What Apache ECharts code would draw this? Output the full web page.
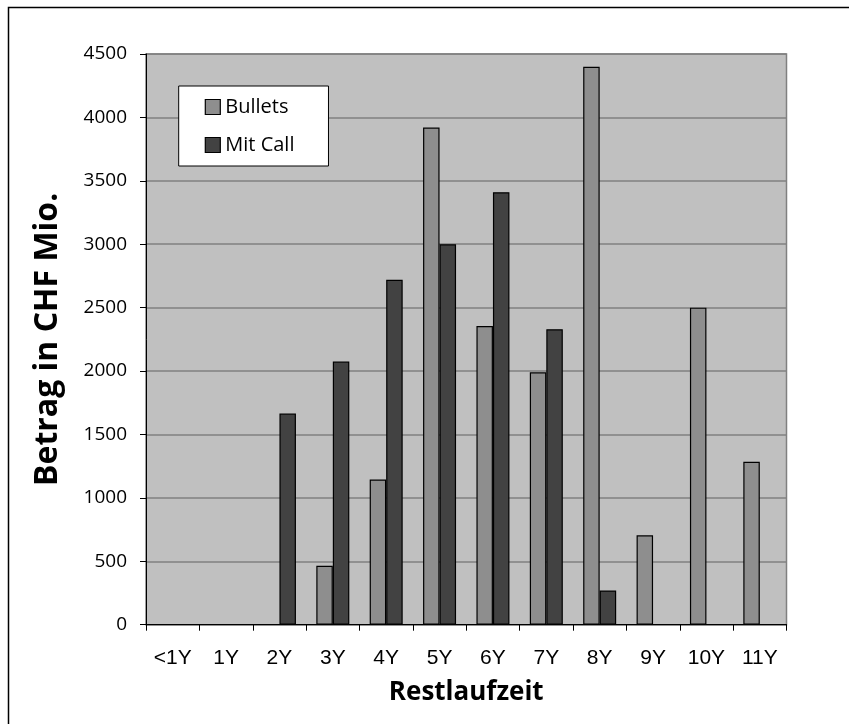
<!DOCTYPE html>
<html>
<head>
<meta charset="utf-8">
<script src="https://cdn.jsdelivr.net/npm/echarts@6/dist/echarts.min.js"></script>
<style>
  html, body { margin: 0; padding: 0; background: #ffffff; }
  #chart { width: 849px; height: 724px; }
</style>
</head>
<body>
<div id="chart"></div>
<script>
// Restlaufzeiten (remaining maturities)
const categories = ['<1Y', '1Y', '2Y', '3Y', '4Y', '5Y', '6Y', '7Y', '8Y', '9Y', '10Y', '11Y'];
// Amounts in CHF millions; null = no issue in that bucket
const bullets = [null, null, null, 465, 1145, 3920, 2355, 1990, 4400, 705, 2500, 1285];
const mitCall = [null, null, 1665, 2075, 2720, 3000, 3410, 2330, 270, null, null, null];
const yTicks = { min: 0, max: 4500, interval: 500 };

const chart = echarts.init(document.getElementById('chart'), null, { renderer: 'canvas' });

const labelFont = '"Open Sans", "DejaVu Sans", sans-serif';

chart.setOption({
  backgroundColor: '#ffffff',
  animation: false,
  graphic: [{
    type: 'rect',
    shape: { x: 8.5, y: 7.5, width: 900, height: 800 },
    style: { fill: 'none', stroke: '#000000', lineWidth: 1.5 },
    silent: true,
    z: -10
  }],
  grid: {
    left: 146, right: 62.5, top: 54, bottom: 99.3,
    show: true,
    backgroundColor: '#c0c0c0',
    borderColor: '#808080',
    borderWidth: 1.5
  },
  legend: {
    left: 178.7, top: 86,
    orient: 'vertical',
    icon: 'rect',
    itemWidth: 15, itemHeight: 15,
    itemGap: 18,
    padding: [11, 34, 11, 26],
    backgroundColor: '#ffffff',
    borderColor: '#000000',
    borderWidth: 1,
    textStyle: { fontFamily: labelFont, fontSize: 20, color: '#000000' },
    itemStyle: { borderColor: '#000000', borderWidth: 1.2 },
    data: ['Bullets', 'Mit Call']
  },
  xAxis: {
    type: 'category',
    data: categories,
    name: 'Restlaufzeit',
    nameLocation: 'middle',
    nameGap: 55,
    nameTextStyle: { fontFamily: labelFont, fontWeight: 'bold', fontSize: 26, color: '#000000' },
    axisLine: { lineStyle: { color: '#000000', width: 1 } },
    axisTick: { show: true, length: 6, lineStyle: { color: '#000000' } },
    axisLabel: { fontFamily: '"Liberation Sans", Arial, sans-serif', fontSize: 21, color: '#000000', margin: 23 },
    splitLine: { show: false }
  },
  yAxis: {
    type: 'value',
    min: yTicks.min, max: yTicks.max, interval: yTicks.interval,
    name: 'Betrag in CHF Mio.',
    nameLocation: 'middle',
    nameGap: 82,
    nameTextStyle: { fontFamily: labelFont, fontWeight: 'bold', fontSize: 32, color: '#000000' },
    axisLine: { show: true, lineStyle: { color: '#000000', width: 1 } },
    axisTick: { show: true, length: 6, lineStyle: { color: '#000000' } },
    axisLabel: {
      fontFamily: labelFont, fontSize: 19, color: '#000000', margin: 19,
      formatter: (v) => String(v)
    },
    splitLine: { show: true, lineStyle: { color: '#808080', width: 1.5 } }
  },
  series: [
    {
      name: 'Bullets',
      type: 'bar',
      data: bullets,
      barWidth: 16.5,
      barGap: 0,
      itemStyle: { color: '#8e8e8e', borderColor: '#000000', borderWidth: 1.2 }
    },
    {
      name: 'Mit Call',
      type: 'bar',
      data: mitCall,
      barWidth: 16.5,
      barGap: 0,
      itemStyle: { color: '#424242', borderColor: '#000000', borderWidth: 1.2 }
    }
  ]
});
</script>
</body>
</html>
